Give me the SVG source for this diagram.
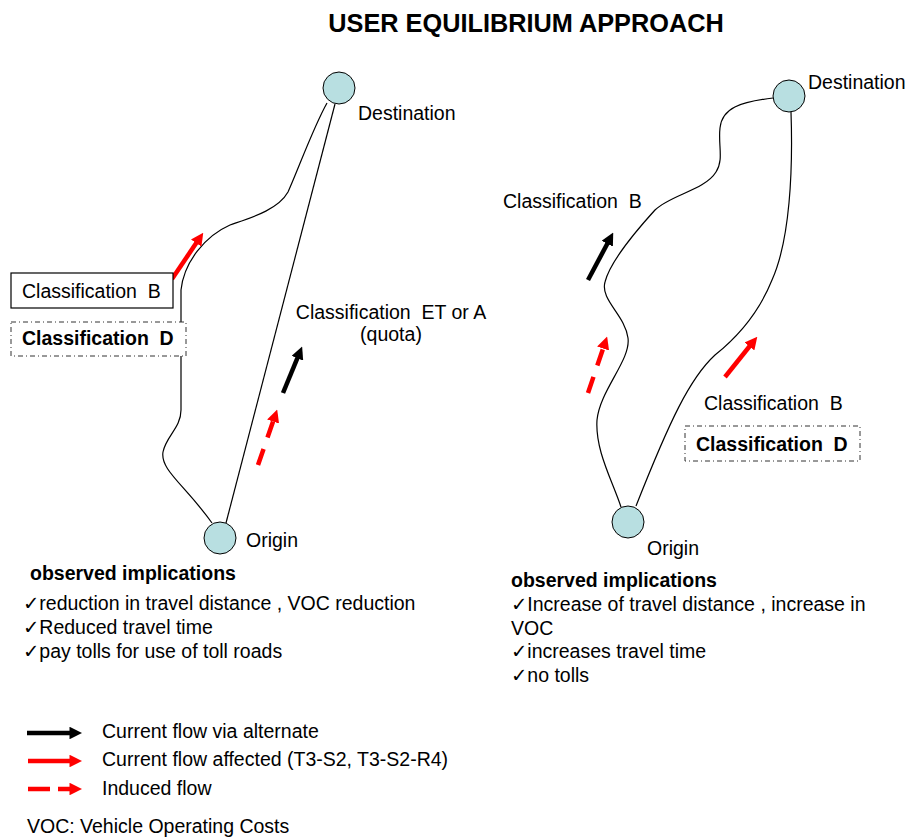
<svg xmlns="http://www.w3.org/2000/svg" width="906" height="837" viewBox="0 0 906 837">
  <style>
    text { font-family: "Liberation Sans", Arial, "DejaVu Sans", sans-serif; font-size: 19.5px; fill: #000; }
    .title { font-size: 25.3px; font-weight: bold; }
    .bold { font-weight: bold; }
    .node { fill: #b8dfe1; stroke: #000; stroke-width: 1; }
    .route { fill: none; stroke: #000; stroke-width: 1.2; }
    .box { fill: #fff; stroke: #000; stroke-width: 1.2; }
    .dotbox { fill: #fff; stroke: #333; stroke-width: 1; stroke-dasharray: 5 3 1 3; }
    .flow { fill: none; stroke-width: 4.5; }
    .black { stroke: #000; }
    .red { stroke: #ff0000; }
    .dashed { stroke-dasharray: 17 12; }
  </style>
  <defs>
    <marker id="headBlack" viewBox="0 0 10 10" refX="2" refY="5" markerWidth="2.8" markerHeight="2.8" orient="auto" markerUnits="strokeWidth">
      <path d="M0,0 L10,5 L0,10 z" fill="#000"/>
    </marker>
    <marker id="headRed" viewBox="0 0 10 10" refX="2" refY="5" markerWidth="2.8" markerHeight="2.8" orient="auto" markerUnits="strokeWidth">
      <path d="M0,0 L10,5 L0,10 z" fill="#ff0000"/>
    </marker>
  </defs>

  <rect width="906" height="837" fill="#fff"/>

  <text class="title" x="526" y="32" text-anchor="middle">USER EQUILIBRIUM APPROACH</text>

  <!-- routes and flow arrows -->
  <g id="connectors">
    <!-- left network -->
    <path class="route" d="M 327 103 C 313 128 298 170 288 192 C 278 210 250 218 230 225 C 205 236 184 262 181 290 L 181 410 C 181 428 166 436 163 452 C 160 470 185 485 212 523"/>
    <path class="route" d="M 335 104 L 226 523"/>
    <!-- right network -->
    <path class="route" d="M 773 98 C 740 102 722 108 720 128 C 718 145 724 160 716 172 C 705 190 670 195 655 210 C 635 232 610 262 605 282 C 600 300 625 315 628 338 C 631 360 600 390 597 420 C 595 450 612 480 621 507"/>
    <path class="route" d="M 791 112 C 793 170 790 240 772 280 C 760 310 740 335 715 355 C 690 378 670 420 636 506"/>

    <!-- flow arrows, left -->
    <path class="flow red" d="M 172 279 L 197.6 241" marker-end="url(#headRed)"/>
    <path class="flow black" d="M 283 393 L 298.3 355.9" marker-end="url(#headBlack)"/>
    <path class="flow red dashed" d="M 258 465 L 273.9 419.1" marker-end="url(#headRed)"/>
    <!-- flow arrows, right -->
    <path class="flow black" d="M 588 280 L 608.5 241.5" marker-end="url(#headBlack)"/>
    <path class="flow red dashed" d="M 588 393 L 603.9 346.1" marker-end="url(#headRed)"/>
    <path class="flow red" d="M 725 377 L 751 344.5" marker-end="url(#headRed)"/>

    <!-- legend arrows -->
    <path class="flow black" d="M 27 733 L 72 733" marker-end="url(#headBlack)"/>
    <path class="flow red" d="M 28 761 L 72 761" marker-end="url(#headRed)"/>
    <path class="flow red" d="M 28 789 L 50 789 M 58 789 L 72 789" marker-end="url(#headRed)"/>
  </g>

  <!-- left network nodes -->
  <g id="left-destination">
    <circle class="node" cx="339" cy="88" r="16"/>
    <text x="358" y="120">Destination</text>
  </g>
  <g id="left-origin">
    <circle class="node" cx="220" cy="538" r="16"/>
    <text x="246" y="547">Origin</text>
  </g>
  <g id="left-class-b">
    <rect class="box" x="11" y="273" width="162" height="35"/>
    <text x="22" y="298" xml:space="preserve">Classification  B</text>
  </g>
  <g id="left-class-d">
    <rect class="dotbox" x="11" y="322" width="175" height="34"/>
    <text class="bold" x="22" y="345" xml:space="preserve">Classification  D</text>
  </g>
  <g id="left-class-et">
    <text x="391" y="319" text-anchor="middle" xml:space="preserve">Classification  ET or A</text>
    <text x="391" y="341" text-anchor="middle">(quota)</text>
  </g>

  <!-- right network nodes -->
  <g id="right-destination">
    <circle class="node" cx="789" cy="96" r="16"/>
    <text x="808" y="89">Destination</text>
  </g>
  <g id="right-origin">
    <circle class="node" cx="628" cy="522" r="16"/>
    <text x="647" y="555">Origin</text>
  </g>
  <g id="right-class-b-upper">
    <text x="503" y="208" xml:space="preserve">Classification  B</text>
  </g>
  <g id="right-class-b-lower">
    <text x="704" y="410" xml:space="preserve">Classification  B</text>
  </g>
  <g id="right-class-d">
    <rect class="dotbox" x="685" y="426" width="175" height="35"/>
    <text class="bold" x="696" y="451" xml:space="preserve">Classification  D</text>
  </g>

  <!-- implications -->
  <g id="left-implications">
    <text class="bold" x="30" y="580">observed implications</text>
    <text x="23" y="610">✓reduction in travel distance , VOC reduction</text>
    <text x="23" y="634">✓Reduced travel time</text>
    <text x="23" y="658">✓pay tolls for use of toll roads</text>
  </g>
  <g id="right-implications">
    <text class="bold" x="511" y="587">observed implications</text>
    <text x="511" y="611">✓Increase of travel distance , increase in</text>
    <text x="511" y="635">VOC</text>
    <text x="511" y="658">✓increases travel time</text>
    <text x="511" y="682">✓no tolls</text>
  </g>

  <!-- legend -->
  <g id="legend">
    <text x="102" y="738">Current flow via alternate</text>
    <text x="102" y="766">Current flow affected (T3-S2, T3-S2-R4)</text>
    <text x="102" y="795">Induced flow</text>
    <text x="27" y="833">VOC: Vehicle Operating Costs</text>
  </g>
</svg>
